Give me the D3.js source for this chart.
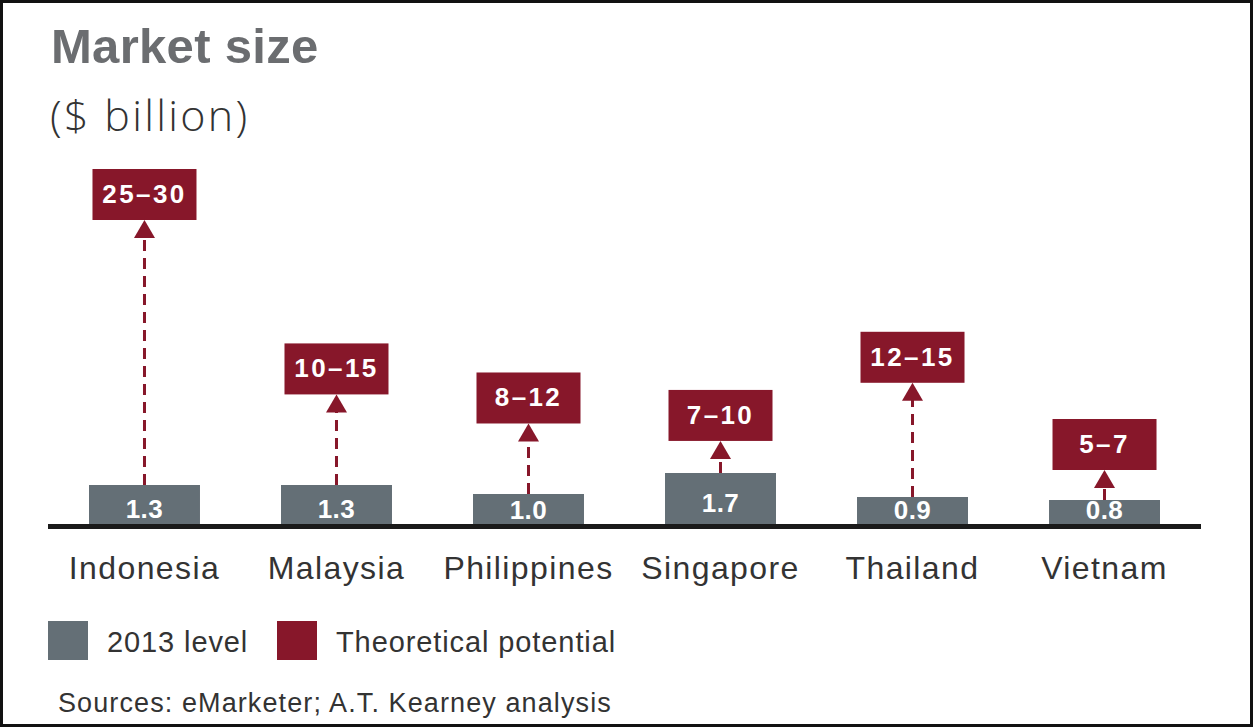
<!DOCTYPE html>
<html>
<head>
<meta charset="utf-8">
<script src="https://cdn.jsdelivr.net/npm/d3@7"></script>
<style>
  body { margin: 0; background: #fff; }
  svg { display: block; }
</style>
</head>
<body>
<div id="chart"></div>
<script>
// data
const countries = ["Indonesia", "Malaysia", "Philippines", "Singapore", "Thailand", "Vietnam"];
const level2013 = [1.3, 1.3, 1.0, 1.7, 0.9, 0.8];
const potentialLow = [25, 10, 8, 7, 12, 5];
const potentialHigh = [30, 15, 12, 10, 15, 7];
const legendLabels = ["2013 level", "Theoretical potential"];

const W = 1254, H = 727;
const grey = "#646f76", red = "#87172a";
const baseY = 524;

const data = countries.map((c, i) => ({
  country: c,
  level: level2013[i],
  lo: potentialLow[i],
  hi: potentialHigh[i],
  mid: (potentialLow[i] + potentialHigh[i]) / 2
}));

const svg = d3.select("#chart").append("svg")
  .attr("width", W)
  .attr("height", H);

// frame
svg.append("rect")
  .attr("x", 1.5).attr("y", 1.5)
  .attr("width", W - 4).attr("height", H - 3)
  .attr("fill", "none")
  .attr("stroke", "#111")
  .attr("stroke-width", 3);

// titles
svg.append("text")
  .attr("x", 51).attr("y", 63)
  .attr("font-family", "Liberation Sans, Arial, sans-serif")
  .attr("font-weight", "bold")
  .attr("font-size", 49)
  .attr("letter-spacing", 0.3)
  .attr("fill", "#6b6d70")
  .text("Market size");

svg.append("text")
  .attr("x", 50).attr("y", 131)
  .attr("font-family", "Open Sans, sans-serif")
  .attr("font-weight", 300)
  .attr("font-size", 43)
  .attr("letter-spacing", 2.3)
  .attr("fill", "#333")
  .text("($ billion)");

// scales
const x = d3.scaleBand()
  .domain(countries)
  .range([89, 1160])
  .paddingInner(0.422)
  .paddingOuter(0);

// bars are drawn to scale above the baseline
const y = d3.scaleLinear()
  .domain([0, 1.7])
  .range([baseY, baseY - 51]);

// potential boxes sit on a compressed scale (midpoint of range)
const yP = d3.scaleLinear()
  .domain([6, 27.5])
  .range([470, 220]);

const boxW = 104, boxH = 51, headH = 18, headW = 21;

// 2013 bars
svg.selectAll(".bar")
  .data(data)
  .join("rect")
    .attr("class", "bar")
    .attr("x", d => x(d.country))
    .attr("y", d => y(d.level))
    .attr("width", x.bandwidth())
    .attr("height", d => baseY - y(d.level))
    .attr("fill", grey);

svg.selectAll(".barlabel")
  .data(data)
  .join("text")
    .attr("class", "barlabel")
    .attr("x", d => x(d.country) + x.bandwidth() / 2)
    .attr("y", d => Math.min((y(d.level) + baseY) / 2 + 13, baseY - 5))
    .attr("text-anchor", "middle")
    .attr("font-family", "Liberation Sans, Arial, sans-serif")
    .attr("font-weight", "bold")
    .attr("font-size", 26)
    .attr("letter-spacing", 0.5)
    .attr("fill", "#fff")
    .text(d => d3.format(".1f")(d.level));

// dashed arrows
svg.selectAll(".stem")
  .data(data)
  .join("line")
    .attr("class", "stem")
    .attr("x1", d => x(d.country) + x.bandwidth() / 2)
    .attr("x2", d => x(d.country) + x.bandwidth() / 2)
    .attr("y1", d => y(d.level))
    .attr("y2", d => yP(d.mid) + headH - 1)
    .attr("stroke", red)
    .attr("stroke-width", 3)
    .attr("stroke-dasharray", "11,7");

svg.selectAll(".head")
  .data(data)
  .join("path")
    .attr("class", "head")
    .attr("d", d => {
      const cx = x(d.country) + x.bandwidth() / 2, ty = yP(d.mid);
      return `M${cx},${ty}L${cx + headW / 2},${ty + headH}L${cx - headW / 2},${ty + headH}Z`;
    })
    .attr("fill", red);

// potential boxes
svg.selectAll(".box")
  .data(data)
  .join("rect")
    .attr("class", "box")
    .attr("x", d => x(d.country) + x.bandwidth() / 2 - boxW / 2)
    .attr("y", d => yP(d.mid) - boxH)
    .attr("width", boxW)
    .attr("height", boxH)
    .attr("fill", red);

svg.selectAll(".boxlabel")
  .data(data)
  .join("text")
    .attr("class", "boxlabel")
    .attr("x", d => x(d.country) + x.bandwidth() / 2)
    .attr("y", d => yP(d.mid) - boxH / 2 + 8.5)
    .attr("text-anchor", "middle")
    .attr("font-family", "Liberation Sans, Arial, sans-serif")
    .attr("font-weight", "bold")
    .attr("font-size", 26)
    .attr("letter-spacing", 2.4)
    .attr("fill", "#fff")
    .text(d => `${d.lo}–${d.hi}`);

// baseline
svg.append("line")
  .attr("x1", 48).attr("x2", 1201)
  .attr("y1", baseY + 2.5).attr("y2", baseY + 2.5)
  .attr("stroke", "#1a1a1a")
  .attr("stroke-width", 5);

// country labels
svg.selectAll(".country")
  .data(data)
  .join("text")
    .attr("class", "country")
    .attr("x", d => x(d.country) + x.bandwidth() / 2)
    .attr("y", 579)
    .attr("text-anchor", "middle")
    .attr("font-family", "Liberation Sans, Arial, sans-serif")
    .attr("font-size", 32)
    .attr("letter-spacing", 1.4)
    .attr("fill", "#333")
    .text(d => d.country);

// legend
const legend = svg.append("g");
const legendX = [48, 277];
legend.selectAll("rect")
  .data(legendLabels)
  .join("rect")
    .attr("x", (d, i) => legendX[i])
    .attr("y", 621)
    .attr("width", 40)
    .attr("height", 39)
    .attr("fill", (d, i) => i === 0 ? grey : red);

legend.selectAll("text")
  .data(legendLabels)
  .join("text")
    .attr("x", (d, i) => legendX[i] + 59)
    .attr("y", 652)
    .attr("font-family", "Liberation Sans, Arial, sans-serif")
    .attr("font-size", 29)
    .attr("letter-spacing", 0.9)
    .attr("fill", "#333")
    .text(d => d);

// source
svg.append("text")
  .attr("x", 58).attr("y", 712)
  .attr("font-family", "Liberation Sans, Arial, sans-serif")
  .attr("font-size", 27)
  .attr("letter-spacing", 1.1)
  .attr("fill", "#333")
  .text("Sources: eMarketer; A.T. Kearney analysis");
</script>
</body>
</html>
